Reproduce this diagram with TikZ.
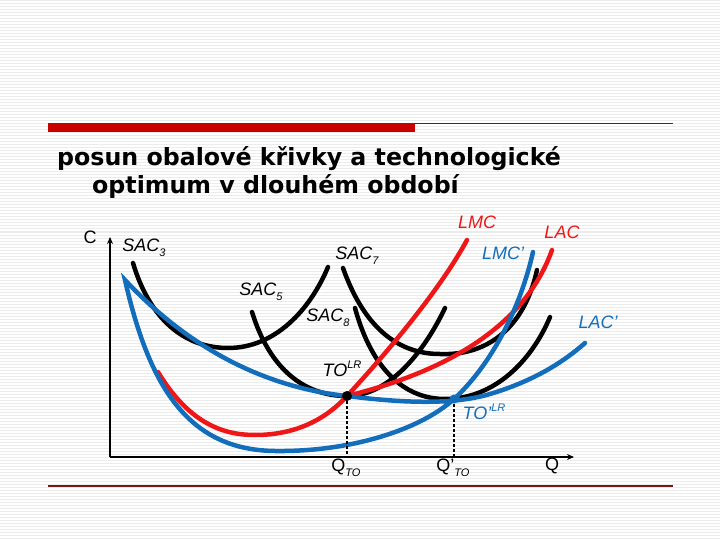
\documentclass[tikz,border=0pt]{standalone}
\usepackage{fontspec}
\setmainfont{Liberation Sans}
\newfontfamily\titlefont{DejaVu Sans}
\usetikzlibrary{arrows.meta}
\definecolor{lmcred}{RGB}{238,22,22}
\definecolor{lacblue}{RGB}{18,110,186}
\definecolor{barred}{RGB}{200,0,0}
\definecolor{rulered}{RGB}{118,24,24}
\newcommand\subtx[1]{\raisebox{-0.3em}{\fontsize{11}{11}\selectfont #1}}
\newcommand\suptx[1]{\raisebox{0.45em}{\fontsize{11}{11}\selectfont #1}}

\begin{document}
\begin{tikzpicture}[x=1pt,y=-1pt,
		curve/.style={line width=4.5pt,line cap=round},
		axis/.style={line width=2.5pt,-{Stealth[length=7pt,width=6pt]}},
		lbl/.style={font=\fontsize{18}{18}\selectfont\itshape,inner sep=0pt},
		drop/.style={line width=2pt,dash pattern=on 3pt off 2pt},
		stripe/.style={gray!16,line width=1pt},
		heading/.style={anchor=base west,inner sep=0pt,font=\titlefont\bfseries\fontsize{23.7}{24}\selectfont}]

			% background
			\useasboundingbox (0,0) rectangle (720,540);
			\fill[white] (0,0) rectangle (720,540);
			\foreach \y in {1,4,...,538}
				\draw[stripe] (0,\y) -- (720,\y);

			% heading
			\fill[barred] (48,123) rectangle (415,132.5);
			\draw[rulered,line width=1.4pt] (415,123.5) -- (673,123.5);
			\draw[rulered,line width=1.4pt] (48,486) -- (673,486);
			\node[heading] (title1) at (57,166) {posun obalové křivky a technologické};
			\node[heading] (title2) at (92,194) {optimum v dlouhém období};

			% axes
			\coordinate (o) at (110,457);
			\coordinate (ytop) at (110,237);
			\coordinate (xend) at (574,457);
			\draw[axis] (o) -- (ytop);
			\draw[axis] (o) -- (xend);

			% short run curves
			\draw[curve] (133,263) .. controls (150,320) and (185,348) .. (228,348) .. controls (275,348) and (310,310) .. (328,267);
			\draw[curve] (252,312) .. controls (270,370) and (305,396) .. (347,396) .. controls (390,396) and (425,350) .. (445,308);
			\draw[curve] (343,268) .. controls (365,330) and (400,354) .. (440,354) .. controls (490,356) and (525,325) .. (537,270);
			\draw[curve] (355,308) .. controls (372,370) and (405,399) .. (445,399) .. controls (495,399) and (532,360) .. (550,317);

			% LMC and LAC
			\draw[curve,lmcred] (158,372) .. controls (190,425) and (225,435) .. (255,435) .. controls (295,435) and (325,420) .. (347,396) .. controls (385,355) and (440,290) .. (467,240);
			\draw[curve,lmcred] (347,396) .. controls (420,378) and (520,340) .. (552,250);

			% shifted curves LAC' and LMC'
			\draw[curve,lacblue,line join=miter] (585,343) .. controls (560,365) and (530,382) .. (490,394) .. controls (450,406) and (395,402) .. (347,396) .. controls (280,389) and (200,360) .. (125,280)
				.. controls (150,390) and (190,450) .. (275,451) .. controls (350,452) and (420,430) .. (454,399) .. controls (490,366) and (520,310) .. (533,252);

			% technological optimum
			\coordinate (to) at (347,396);
			\coordinate (to2) at (454,399);
			\draw[drop] (to) -- (to |- o);
			\draw[drop] (to2) -- (to2 |- o);
			\fill (to) circle (5pt);
			\fill[lacblue] (to2) circle (4.5pt);

			% labels
			\node[lbl,font=\fontsize{18}{18}\selectfont] (cl) at (90,237) {C};
			\node[lbl] (sac3) at (144,248) {SAC\subtx{3}};
			\node[lbl] (sac5) at (261,292) {SAC\subtx{5}};
			\node[lbl] (sac7) at (357,256) {SAC\subtx{7}};
			\node[lbl] (sac8) at (328,318) {SAC\subtx{8}};
			\node[lbl] (tolr) at (342,369) {TO\suptx{LR}};
			\node[lbl,lmcred] (lmc) at (477,222) {LMC};
			\node[lbl,lacblue] (lmc2) at (503,253) {LMC'};
			\node[lbl,lmcred] (lac) at (562,232) {LAC};
			\node[lbl,lacblue] (lac2) at (598,322) {LAC'};
			\node[lbl,lacblue] (tolr2) at (484,412) {TO'\suptx{LR}};
			\node[lbl,font=\fontsize{18}{18}\selectfont] (qto) at (346,468) {Q\subtx{\itshape TO}};
			\node[lbl,font=\fontsize{18}{18}\selectfont] (qto2) at (453,468) {Q'\subtx{\itshape TO}};
			\node[lbl,font=\fontsize{18}{18}\selectfont] (q) at (552,466) {Q};

		\end{tikzpicture}
\end{document}
